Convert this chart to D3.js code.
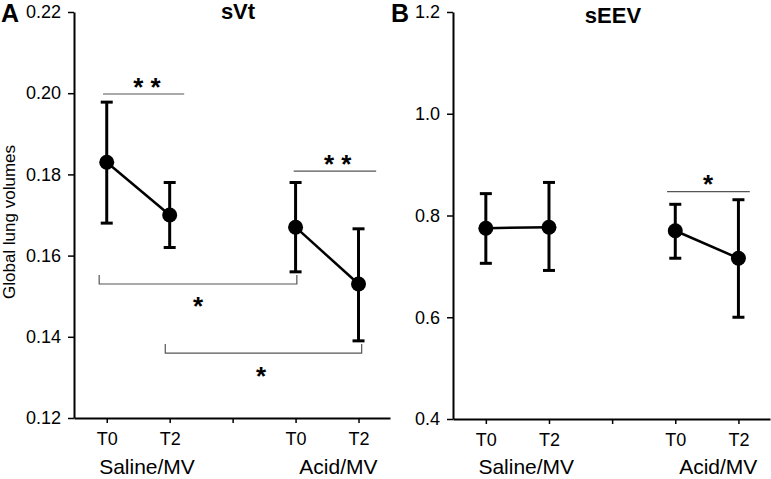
<!DOCTYPE html>
<html>
<head>
<meta charset="utf-8">
<script src="https://cdn.jsdelivr.net/npm/d3@7"></script>
<style>
  body { margin: 0; background: #fff; }
  text { font-family: "Liberation Sans", Arial, sans-serif; fill: #000; }
</style>
</head>
<body>
<svg id="chart" width="771" height="479"></svg>
<script>
// categories on the x axis (index 2 is the empty spacer tick)
var tickPos = [0, 1, 2, 3, 4];
var tickLabels = ["T0", "T2", "", "T0", "T2"];
var groups = ["Saline/MV", "Acid/MV"];
var groupPos = [0.64, 3.68];
var pointPos = [0, 1, 3, 4];

// panel A: sVt
var sVtMean = [0.183, 0.170, 0.167, 0.153];
var sVtHigh = [0.1978, 0.178, 0.178, 0.1666];
var sVtLow = [0.168, 0.162, 0.156, 0.139];
var sVtTicks = [0.12, 0.14, 0.16, 0.18, 0.20, 0.22];

// panel B: sEEV
var sEEVMean = [0.775, 0.777, 0.770, 0.716];
var sEEVHigh = [0.843, 0.865, 0.822, 0.831];
var sEEVLow = [0.706, 0.692, 0.716, 0.600];
var sEEVTicks = [0.4, 0.6, 0.8, 1.0, 1.2];

// significance marks, in data units: [x1, x2, y, starX, starY, text]
var sVtLines = [
    [-0.06, 1.23, 0.1998, 0.64, 0.2029, "* *"],
    [2.97, 4.28, 0.1808, 3.67, 0.1840, "* *"]
];
// brackets: [x1, x2, yLine, yEnds, starX, starY]
var sVtBrackets = [
    [-0.12, 3.02, 0.1530, 0.1552, 1.45, 0.1490],
    [0.93, 4.05, 0.1360, 0.1382, 2.45, 0.1318]
];
var sEEVLines = [
    [2.87, 4.18, 0.847, 3.52, 0.8745, "*"]
];

var svg = d3.select("#chart");

function panel(opt) {
    var x = d3.scaleLinear().domain([-0.52, 4.5]).range([opt.left, opt.right]);
    var y = d3.scaleLinear().domain(opt.domain).range([opt.bottom, opt.top]);
    var g = svg.append("g");

    // axes
    var yAxis = d3.axisLeft(y).tickValues(opt.ticks).tickSize(6).tickPadding(7)
        .tickSizeOuter(0).tickFormat(d3.format(opt.fmt));
    var ya = g.append("g").attr("transform", "translate(" + opt.left + ",0)").call(yAxis);
    var xAxis = d3.axisBottom(x).tickValues(tickPos).tickSize(5).tickPadding(9)
        .tickSizeOuter(0).tickFormat(function(d, i) { return tickLabels[i]; });
    var xa = g.append("g").attr("transform", "translate(0," + opt.bottom + ")").call(xAxis);
    [ya, xa].forEach(function(a) {
        a.selectAll("text").style("font-size", "18px").attr("fill", "#000");
        a.selectAll("line").attr("stroke", "#000").attr("stroke-width", 1.5);
        a.select(".domain").attr("stroke", "#000").attr("stroke-width", 2);
    });

    // group labels
    g.selectAll(".grp").data(groups).enter().append("text")
        .attr("x", function(d, i) { return x(groupPos[i]); })
        .attr("y", 474)
        .attr("text-anchor", "middle")
        .style("font-size", "21px")
        .text(function(d) { return d; });

    // title and panel letter
    g.append("text").attr("x", opt.titleX).attr("y", opt.titleY)
        .attr("text-anchor", "middle").style("font-size", "22px").style("font-weight", "bold")
        .text(opt.title);
    g.append("text").attr("x", opt.letterX).attr("y", 22)
        .style("font-size", "25px").style("font-weight", "bold")
        .text(opt.letter);

    // significance lines
    opt.lines.forEach(function(l) {
        g.append("line").attr("x1", x(l[0])).attr("x2", x(l[1]))
            .attr("y1", y(l[2])).attr("y2", y(l[2]))
            .attr("stroke", "#555").attr("stroke-width", 1.2);
        g.append("text").attr("x", x(l[3])).attr("y", y(l[4]) + 15)
            .attr("text-anchor", "middle").style("font-size", "26px").style("font-weight", "bold")
            .text(l[5]);
    });
    opt.brackets.forEach(function(b) {
        var p = d3.path();
        p.moveTo(x(b[0]), y(b[3]));
        p.lineTo(x(b[0]), y(b[2]));
        p.lineTo(x(b[1]), y(b[2]));
        p.lineTo(x(b[1]), y(b[3]));
        g.append("path").attr("d", p.toString()).attr("fill", "none")
            .attr("stroke", "#555").attr("stroke-width", 1.2);
        g.append("text").attr("x", x(b[4])).attr("y", y(b[5]) + 15)
            .attr("text-anchor", "middle").style("font-size", "26px").style("font-weight", "bold")
            .text("*");
    });

    // error bars
    var idx = d3.range(pointPos.length);
    g.selectAll(".err").data(idx).enter().append("line")
        .attr("x1", function(i) { return x(pointPos[i]); })
        .attr("x2", function(i) { return x(pointPos[i]); })
        .attr("y1", function(i) { return y(opt.low[i]); })
        .attr("y2", function(i) { return y(opt.high[i]); })
        .attr("stroke", "#000").attr("stroke-width", 3);
    [opt.low, opt.high].forEach(function(arr) {
        g.selectAll(null).data(idx).enter().append("line")
            .attr("x1", function(i) { return x(pointPos[i]) - 6; })
            .attr("x2", function(i) { return x(pointPos[i]) + 6; })
            .attr("y1", function(i) { return y(arr[i]); })
            .attr("y2", function(i) { return y(arr[i]); })
            .attr("stroke", "#000").attr("stroke-width", 3);
    });

    // connecting lines per group
    var line = d3.line().x(function(i) { return x(pointPos[i]); }).y(function(i) { return y(opt.mean[i]); });
    [[0, 1], [2, 3]].forEach(function(pair) {
        g.append("path").attr("d", line(pair)).attr("fill", "none")
            .attr("stroke", "#000").attr("stroke-width", 2.5);
    });
    g.selectAll(".pt").data(idx).enter().append("circle")
        .attr("cx", function(i) { return x(pointPos[i]); })
        .attr("cy", function(i) { return y(opt.mean[i]); })
        .attr("r", 7.5).attr("fill", "#000");
}

panel({
    left: 74, right: 390, top: 12, bottom: 418,
    domain: [0.12, 0.22], ticks: sVtTicks, fmt: ".2f",
    mean: sVtMean, high: sVtHigh, low: sVtLow,
    title: "sVt", titleX: 238, titleY: 19, letter: "A", letterX: 1,
    lines: sVtLines, brackets: sVtBrackets
});
panel({
    left: 453, right: 770, top: 12, bottom: 419,
    domain: [0.4, 1.2], ticks: sEEVTicks, fmt: ".1f",
    mean: sEEVMean, high: sEEVHigh, low: sEEVLow,
    title: "sEEV", titleX: 613, titleY: 23, letter: "B", letterX: 391,
    lines: sEEVLines, brackets: []
});

// y axis title
svg.append("text")
    .attr("transform", "translate(15,222) rotate(-90)")
    .attr("text-anchor", "middle")
    .style("font-size", "17px")
    .text("Global lung volumes");
</script>
</body>
</html>
